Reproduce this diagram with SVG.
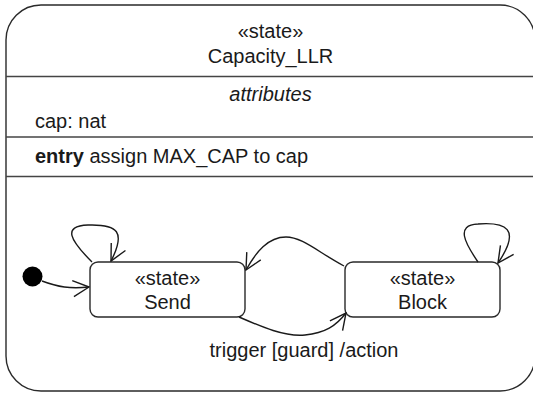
<svg xmlns="http://www.w3.org/2000/svg" width="533" height="394" viewBox="0 0 533 394">
  <style>
    text { font-family: "Liberation Sans", Arial, sans-serif; font-size: 20px; fill: #1a1a1a; }
    .c { text-anchor: middle; }
    .box { fill: #fff; stroke: #2a2a2a; stroke-width: 1.4; }
    .div { stroke: #444; stroke-width: 1.6; }
    .edge { fill: none; stroke: #1a1a1a; stroke-width: 1.4; marker-end: url(#open); }
  </style>
  <defs>
    <marker id="open" markerUnits="userSpaceOnUse" viewBox="0 0 18 18" markerWidth="18" markerHeight="18" refX="17" refY="9" orient="auto">
      <path d="M1,1 L17,9 L1,17" fill="none" stroke="#1a1a1a" stroke-width="1.4"/>
    </marker>
  </defs>
  <rect width="533" height="394" fill="#fff"/>

  <!-- composite state -->
  <g id="capacity_llr">
    <rect class="box" x="6" y="5" width="529" height="386" rx="35" ry="35"/>
    <line class="div" x1="6" y1="76.5" x2="533" y2="76.5"/>
    <line class="div" x1="6" y1="137" x2="533" y2="137"/>
    <line class="div" x1="6" y1="176.5" x2="533" y2="176.5"/>
    <text class="c" x="270.5" y="38">«state»</text>
    <text class="c" x="270.5" y="63">Capacity_LLR</text>
    <text class="c" x="270.5" y="101" font-style="italic">attributes</text>
    <text x="35" y="128">cap: nat</text>
    <text x="35" y="163"><tspan font-weight="bold">entry</tspan> assign MAX_CAP to cap</text>
  </g>

  <!-- initial pseudostate -->
  <g id="initial">
    <circle cx="32.5" cy="276.5" r="10" fill="#000"/>
  </g>

  <g id="send">
    <rect class="box" x="90" y="262" width="155" height="55" rx="8" ry="8"/>
    <text class="c" x="167.5" y="285">«state»</text>
    <text class="c" x="167.5" y="309">Send</text>
  </g>

  <g id="block">
    <rect class="box" x="345" y="262" width="155" height="55" rx="8" ry="8"/>
    <text class="c" x="422.5" y="285">«state»</text>
    <text class="c" x="422.5" y="309">Block</text>
  </g>

  <!-- transitions -->
  <g id="transitions">
    <path class="edge" d="M42,281 C58,287 70,289 89,287"/>
    <path class="edge" d="M92,262 C70,240 62,226 88,225 C118,224 126,232 111,261"/>
    <path class="edge" d="M478,262 C465,243 455,225 478,224 C505,222 522,228 498,263"/>
    <path class="edge" d="M344,266 C318,252 302,237 286,237 C268,237 256,252 246,270"/>
    <path class="edge" d="M239,317 C262,327 285,337 305,335 C325,333 336,326 346,313"/>
    <text class="c" x="304" y="357">trigger [guard] /action</text>
  </g>
</svg>
